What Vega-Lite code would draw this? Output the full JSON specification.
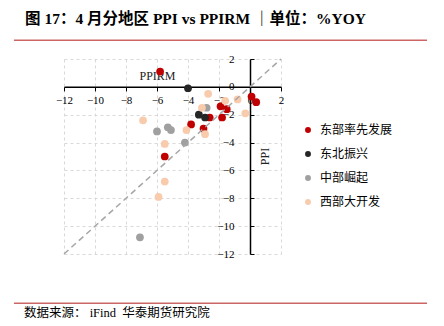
{
  "$schema": "https://vega.github.io/schema/vega-lite/v6.json",
  "width": 217,
  "height": 195,
  "autosize": {"type": "none"},
  "padding": {"left": 64, "top": 59, "right": 163, "bottom": 72},
  "background": "white",
  "config": {"view": {"stroke": null}},
  "title": {
    "text": "图 17：4 月分地区 PPI vs PPIRM ｜单位：%YOY",
    "anchor": "start",
    "frame": "group",
    "dx": -39,
    "dy": -8,
    "font": "Liberation Serif, Noto Sans CJK SC",
    "fontSize": 15.5,
    "fontWeight": "bold",
    "color": "black"
  },
  "datasets": {
    "pts": [
      {"region": "东部率先发展", "ppirm": -5.8, "ppi": 1.1},
      {"region": "东部率先发展", "ppirm": 0.1, "ppi": -0.7},
      {"region": "东部率先发展", "ppirm": 0.4, "ppi": -1.1},
      {"region": "东部率先发展", "ppirm": -1.9, "ppi": -1.4},
      {"region": "东部率先发展", "ppirm": -1.5, "ppi": -1.6},
      {"region": "东部率先发展", "ppirm": -1.8, "ppi": -2.2},
      {"region": "东部率先发展", "ppirm": -2.6, "ppi": -2.2},
      {"region": "东部率先发展", "ppirm": -3.8, "ppi": -2.7},
      {"region": "东部率先发展", "ppirm": -3.0, "ppi": -3.0},
      {"region": "东部率先发展", "ppirm": -5.5, "ppi": -5.0},
      {"region": "东北振兴", "ppirm": -4.0, "ppi": -0.1},
      {"region": "东北振兴", "ppirm": -3.3, "ppi": -2.0},
      {"region": "东北振兴", "ppirm": -2.9, "ppi": -2.2},
      {"region": "中部崛起", "ppirm": -2.8, "ppi": -1.5},
      {"region": "中部崛起", "ppirm": -6.0, "ppi": -3.2},
      {"region": "中部崛起", "ppirm": -5.3, "ppi": -2.9},
      {"region": "中部崛起", "ppirm": -5.1, "ppi": -3.1},
      {"region": "中部崛起", "ppirm": -4.2, "ppi": -4.0},
      {"region": "中部崛起", "ppirm": -7.1, "ppi": -10.8},
      {"region": "西部大开发", "ppirm": -2.7, "ppi": -0.5},
      {"region": "西部大开发", "ppirm": -0.8, "ppi": -0.9},
      {"region": "西部大开发", "ppirm": -1.6, "ppi": -1.0},
      {"region": "西部大开发", "ppirm": -0.3, "ppi": -1.9},
      {"region": "西部大开发", "ppirm": -3.1, "ppi": -1.5},
      {"region": "西部大开发", "ppirm": -6.9, "ppi": -2.4},
      {"region": "西部大开发", "ppirm": -4.1, "ppi": -3.1},
      {"region": "西部大开发", "ppirm": -2.9, "ppi": -3.4},
      {"region": "西部大开发", "ppirm": -5.5, "ppi": -4.1},
      {"region": "西部大开发", "ppirm": -5.5, "ppi": -6.8},
      {"region": "西部大开发", "ppirm": -5.9, "ppi": -7.9}
    ],
    "diag": [
      {"ppirm": -12, "ppi": -12},
      {"ppirm": 2, "ppi": 2}
    ],
    "frame": [
      {"ppirm": -15.23, "ppirm2": 11.42, "ppi": 3.34},
      {"ppirm": -15.23, "ppirm2": 11.42, "ppi": -15.54}
    ],
    "note": [
      {"ppirm": -14.58, "ppi": -16.24, "text": "数据来源：\u00a0iFind\u00a0\u00a0华泰期货研究院"}
    ]
  },
  "encoding": {
    "x": {
      "field": "ppirm",
      "type": "quantitative",
      "scale": {"domain": [-12, 2], "nice": false, "zero": false},
      "axis": {
        "orient": "bottom",
        "offset": -167.14,
        "values": [-12, -10, -8, -6, -4, -2, 0, 2],
        "labelOverlap": false,
        "labelFlush": false,
        "labelFont": "Liberation Serif",
        "labelFontSize": 11,
        "labelColor": "black",
        "labelPadding": 4,
        "domainColor": "black",
        "domainWidth": 1.5,
        "tickColor": "black",
        "tickSize": 4,
        "tickWidth": 1,
        "grid": true,
        "gridColor": "#D9D9D9",
        "gridDash": [3, 3],
        "title": "PPIRM",
        "titleFont": "Liberation Serif",
        "titleFontSize": 12,
        "titleFontWeight": "normal",
        "titleColor": "#222222",
        "titleX": 93,
        "titleY": -11,
        "titleAlign": "center",
        "titleBaseline": "middle"
      }
    },
    "y": {
      "field": "ppi",
      "type": "quantitative",
      "scale": {"domain": [-12, 2], "nice": false, "zero": false},
      "axis": {
        "orient": "left",
        "offset": -186,
        "values": [-12, -10, -8, -6, -4, -2, 0, 2],
        "labelOverlap": false,
        "labelFlush": false,
        "labelFont": "Liberation Serif",
        "labelFontSize": 11,
        "labelColor": "black",
        "labelPadding": 20,
        "domainColor": "black",
        "domainWidth": 1.5,
        "tickColor": "black",
        "tickSize": -4,
        "tickWidth": 1,
        "grid": true,
        "gridColor": "#D9D9D9",
        "gridDash": [3, 3],
        "title": "PPI",
        "titleFont": "Liberation Serif",
        "titleFontSize": 12,
        "titleFontWeight": "normal",
        "titleColor": "#222222",
        "titleAngle": -90,
        "titleX": 14,
        "titleY": 97,
        "titleAlign": "center",
        "titleBaseline": "middle"
      }
    }
  },
  "layer": [
    {
      "data": {"name": "pts"},
      "mark": {"type": "point", "shape": "circle", "filled": true, "opacity": 1, "size": 60},
      "encoding": {
        "color": {
          "field": "region",
          "type": "nominal",
          "scale": {
            "domain": ["东部率先发展", "东北振兴", "中部崛起", "西部大开发"],
            "range": ["#C00000", "#262626", "#A0A0A0", "#F8CBAD"]
          },
          "legend": {
            "title": null,
            "orient": "none",
            "legendX": 238,
            "legendY": 65,
            "padding": 0,
            "symbolType": "circle",
            "symbolSize": 35,
            "symbolStrokeWidth": 0,
            "labelFont": "Noto Sans CJK SC",
            "labelFontSize": 12,
            "labelColor": "black",
            "labelOffset": 6,
            "rowPadding": 12
          }
        }
      }
    },
    {
      "data": {"name": "diag"},
      "mark": {"type": "line", "color": "#A6A6A6", "strokeWidth": 1.5, "strokeDash": [6, 4]},
      "encoding": {}
    },
    {
      "data": {"name": "frame"},
      "mark": {"type": "rule", "color": "#CC6666", "strokeWidth": 1.5},
      "encoding": {
        "x2": {"field": "ppirm2"}
      }
    },
    {
      "data": {"name": "note"},
      "mark": {"type": "text", "align": "left", "baseline": "middle", "font": "Liberation Serif, Noto Sans CJK SC", "fontSize": 12.5, "color": "black"},
      "encoding": {
        "text": {"field": "text"}
      }
    }
  ]
}
